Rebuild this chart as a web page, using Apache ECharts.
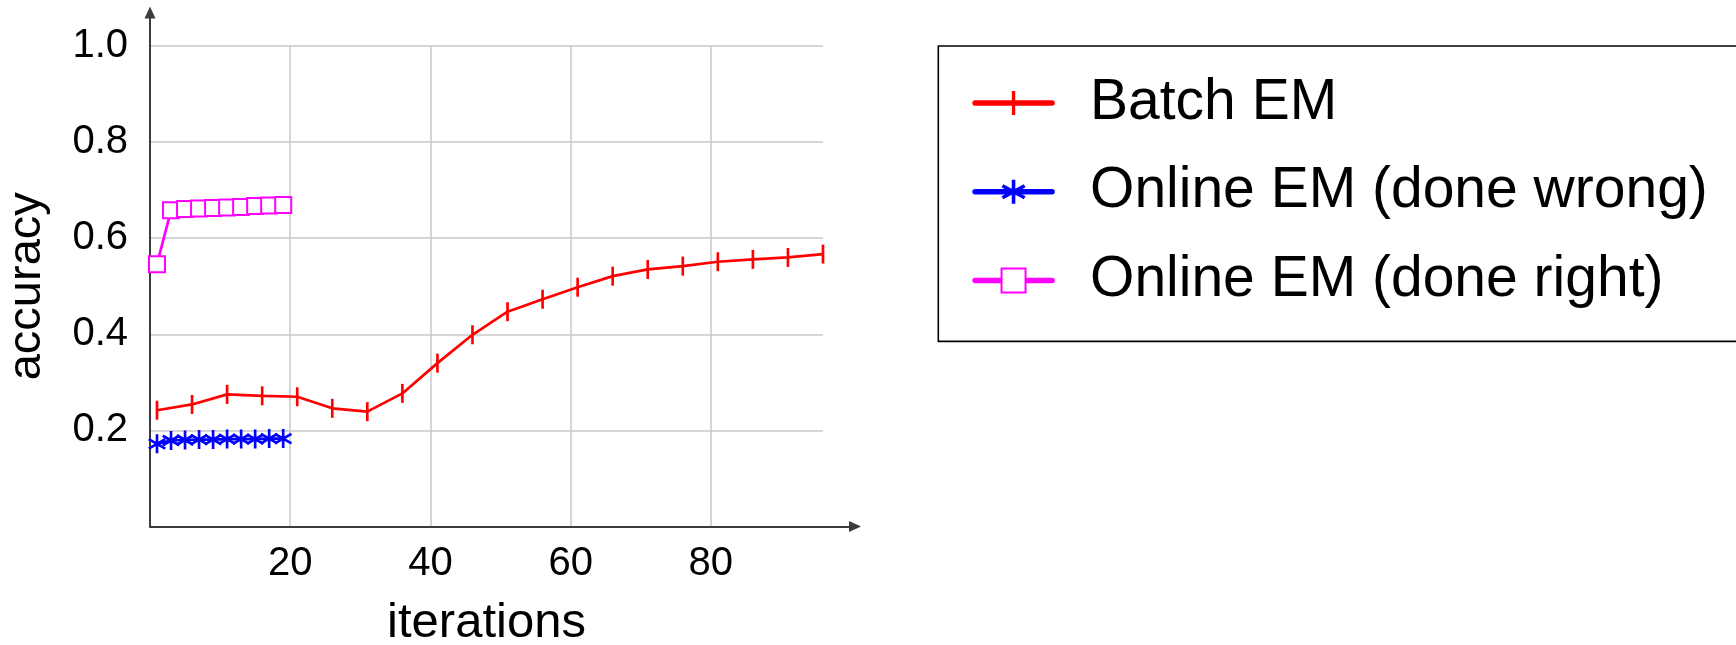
<!DOCTYPE html>
<html>
<head>
<meta charset="utf-8">
<script src="https://cdn.jsdelivr.net/npm/echarts@6/dist/echarts.min.js"></script>
<style>
html,body{margin:0;padding:0;background:#fff;}
#chart{width:1736px;height:645px;}
</style>
</head>
<body>
<div id="chart"></div>
<script>
// ---- data ----
const seriesNames = ['Batch EM', 'Online EM (done wrong)', 'Online EM (done right)'];
const batchIterations = [1, 6, 11, 16, 21, 26, 31, 36, 41, 46, 51, 56, 61, 66, 71, 76, 81, 86, 91, 96];
const batchAccuracy = [0.242, 0.254, 0.275, 0.272, 0.270, 0.246, 0.239, 0.277, 0.340, 0.399,
                       0.447, 0.473, 0.498, 0.521, 0.535, 0.542, 0.551, 0.556, 0.560, 0.567];
const onlineIterations = [1, 3, 5, 7, 9, 11, 13, 15, 17, 19];
const onlineWrongAccuracy = [0.172, 0.179, 0.180, 0.181, 0.181, 0.182, 0.182, 0.182, 0.183, 0.183];
const onlineRightAccuracy = [0.546, 0.658, 0.661, 0.662, 0.663, 0.664, 0.665, 0.667, 0.668, 0.669];
const xTickLabels = [20, 40, 60, 80];
const yTickLabels = [0.2, 0.4, 0.6, 0.8, 1.0];
const xAxisTitle = 'iterations';
const yAxisTitle = 'accuracy';

// ---- styling ----
const FONT = 'Liberation Sans';
const BAR_SYMBOL = 'path://M-0.14,-1H0.14V1H-0.14Z M-1,0L-1,0 M1,0L1,0';
// filled six-spoke asterisk (three thin bars)
const ASTERISK_SYMBOL = 'path://M-0.14,-1L0.14,-1L0.14,1L-0.14,1Z' +
  'M0.796,0.621L-0.936,-0.379L-0.796,-0.621L0.936,0.379Z' +
  'M0.796,-0.621L0.936,-0.379L-0.796,0.621L-0.936,0.379Z';
const AXIS_COLOR = '#3c3c3c';

function pairs(xs, ys) { return xs.map((x, i) => [x, ys[i]]); }
function isTick(list, v) { return list.some(t => Math.abs(t - v) < 1e-6); }

const chart = echarts.init(document.getElementById('chart'), null, {renderer: 'canvas'});

const option = {
  animation: false,
  backgroundColor: '#fff',
  grid: [
    {left: 150, top: 46, width: 673, height: 480.5, containLabel: false, outerBoundsMode: 'none'},
    {left: 150, top: 12.5, width: 705, height: 514, containLabel: false, outerBoundsMode: 'none'}
  ],
  xAxis: [
    {
      gridIndex: 0, type: 'value', min: 0, max: 96, interval: 20,
      axisLine: {show: false}, axisTick: {show: false},
      axisLabel: {
        margin: 17, fontFamily: FONT, fontSize: 40, lineHeight: 40, color: '#000',
        formatter: v => isTick(xTickLabels, v) ? String(v) : ''
      },
      splitLine: {show: true, showMinLine: false, showMaxLine: false,
                  lineStyle: {color: '#c9c9c9', width: 1.5}},
      name: xAxisTitle, nameLocation: 'middle', nameGap: 72,
      nameTextStyle: {fontFamily: FONT, fontSize: 49, lineHeight: 49, color: '#000'}
    },
    {
      gridIndex: 1, type: 'value', min: 0, max: 1,
      axisLine: {show: true, symbol: ['none', 'triangle'], symbolSize: [11, 12],
                 lineStyle: {color: AXIS_COLOR, width: 2}},
      axisTick: {show: false}, axisLabel: {show: false}, splitLine: {show: false}
    }
  ],
  yAxis: [
    {
      gridIndex: 0, type: 'value', min: 0, max: 1, interval: 0.2,
      axisLine: {show: false}, axisTick: {show: false},
      axisLabel: {
        margin: 22, fontFamily: FONT, fontSize: 40, lineHeight: 40, color: '#000',
        formatter: v => isTick(yTickLabels, v) ? v.toFixed(1) : ''
      },
      splitLine: {show: true, showMinLine: false, showMaxLine: true,
                  lineStyle: {color: '#c9c9c9', width: 1.5}},
      name: yAxisTitle, nameLocation: 'middle', nameGap: 99,
      nameTextStyle: {fontFamily: FONT, fontSize: 47, lineHeight: 47, color: '#000'}
    },
    {
      gridIndex: 1, type: 'value', min: 0, max: 1,
      axisLine: {show: true, symbol: ['none', 'triangle'], symbolSize: [11, 12],
                 lineStyle: {color: AXIS_COLOR, width: 2}},
      axisTick: {show: false}, axisLabel: {show: false}, splitLine: {show: false}
    }
  ],
  legend: {
    show: true,
    orient: 'vertical',
    left: 938.3, top: 46,
    padding: [27, 40, 31, 34],
    itemGap: 28.7,
    itemWidth: 77, itemHeight: 30,
    borderColor: '#000', borderWidth: 1.6, backgroundColor: '#fff',
    selectedMode: false,
    lineStyle: {width: 5.5, cap: 'round'},
    textStyle: {fontFamily: FONT, fontSize: 57, lineHeight: 60, color: '#000', padding: [0, 0, 0, 33]},
    data: seriesNames
  },
  series: [
    {
      name: seriesNames[0], type: 'line', xAxisIndex: 0, yAxisIndex: 0,
      data: pairs(batchIterations, batchAccuracy),
      symbol: BAR_SYMBOL, symbolSize: 19, symbolKeepAspect: true,
      lineStyle: {color: '#ff0000', width: 2.7},
      itemStyle: {color: '#ff0000', borderWidth: 0},
      emphasis: {disabled: true}, z: 3
    },
    {
      name: seriesNames[1], type: 'line', xAxisIndex: 0, yAxisIndex: 0,
      data: pairs(onlineIterations, onlineWrongAccuracy),
      symbol: ASTERISK_SYMBOL, symbolSize: 19, symbolKeepAspect: true,
      lineStyle: {color: '#0000ff', width: 2.7},
      itemStyle: {color: '#0000ff', borderWidth: 0},
      emphasis: {disabled: true}, z: 4
    },
    {
      name: seriesNames[2], type: 'line', xAxisIndex: 0, yAxisIndex: 0,
      data: pairs(onlineIterations, onlineRightAccuracy),
      symbol: 'emptyRect', symbolSize: 16,
      lineStyle: {color: '#ff00ff', width: 2.7},
      itemStyle: {color: '#ff00ff', borderColor: '#ff00ff', borderWidth: 2.5},
      emphasis: {disabled: true}, z: 5
    }
  ]
};
chart.setOption(option);
</script>
</body>
</html>
